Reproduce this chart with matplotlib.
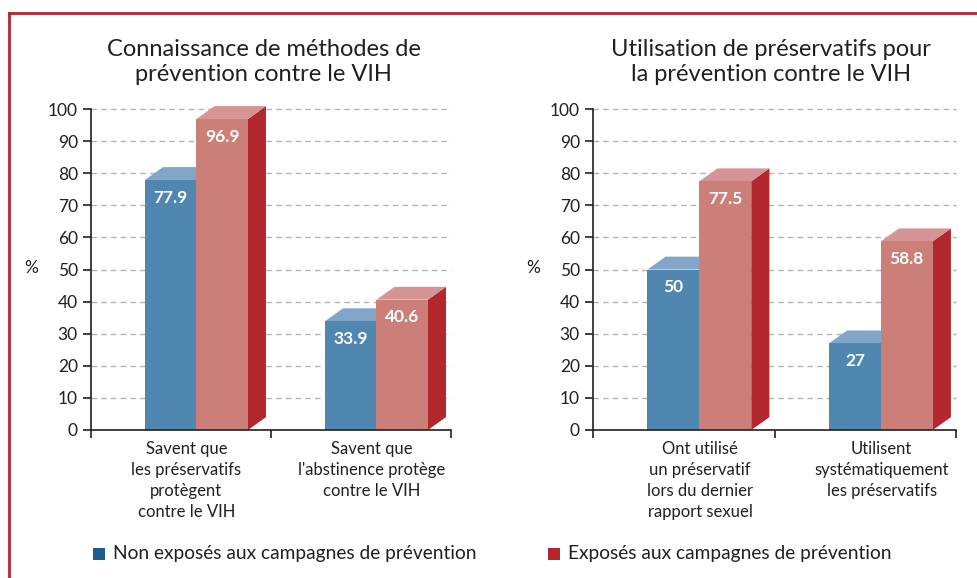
import matplotlib
matplotlib.use("Agg")
import matplotlib.pyplot as plt
from matplotlib.patches import Polygon, Rectangle
from matplotlib.lines import Line2D

plt.rcParams['font.family'] = ['Lato', 'DejaVu Sans']

# data
titles = ["Connaissance de méthodes de\nprévention contre le VIH",
          "Utilisation de préservatifs pour\nla prévention contre le VIH"]
categories_left = ["Savent que\nles préservatifs\nprotègent\ncontre le VIH",
                   "Savent que\nl'abstinence protège\ncontre le VIH"]
categories_right = ["Ont utilisé\nun préservatif\nlors du dernier\nrapport sexuel",
                    "Utilisent\nsystématiquement\nles préservatifs"]
non_exposed_left = [77.9, 33.9]
exposed_left = [96.9, 40.6]
non_exposed_right = [50, 27]
exposed_right = [77.5, 58.8]
labels_non_exposed_left = ["77.9", "33.9"]
labels_exposed_left = ["96.9", "40.6"]
labels_non_exposed_right = ["50", "27"]
labels_exposed_right = ["77.5", "58.8"]
legend_labels = ["Non exposés aux campagnes de prévention",
                 "Exposés aux campagnes de prévention"]
yticks = [0, 10, 20, 30, 40, 50, 60, 70, 80, 90, 100]

# colours
BLUE_FRONT = "#4f87b1"
BLUE_TOP = "#81a6c8"
BLUE_SIDE = "#3c6f96"
RED_FRONT = "#cc7f79"
RED_TOP = "#d69594"
RED_SIDE = "#b2282e"
BLUE_LEGEND = "#1d5d8e"
TEXT = "#231f20"

W = 0.286     # bar width
OFF = 0.30    # offset of first bar in category
DX = 0.10     # depth in x
DY = 4.0      # depth in y


def bar3d(ax, x0, h, front, top, side, label):
    x1 = x0 + W
    ax.add_patch(Polygon([(x1, 0), (x1 + DX, DY), (x1 + DX, h + DY), (x1, h)],
                         closed=True, facecolor=side, edgecolor='none',
                         zorder=3, clip_on=False))
    ax.add_patch(Polygon([(x0, h), (x0 + DX, h + DY), (x1 + DX, h + DY), (x1, h)],
                         closed=True, facecolor=top, edgecolor='none',
                         zorder=3, clip_on=False))
    ax.add_patch(Rectangle((x0, 0), W, h, facecolor=front, edgecolor='none',
                           zorder=4, clip_on=False))
    ax.text(x0 + W / 2, h - 5.5, label, ha='center', va='center',
            color='white', fontsize=12.5, fontweight='bold', zorder=6)


def draw_panel(ax, title, cats, blue, red, blue_lbl, red_lbl, cat_pos, title_x):
    ax.set_xlim(0, 2)
    ax.set_ylim(0, 100)
    for i in range(2):
        bar3d(ax, i + OFF, blue[i], BLUE_FRONT, BLUE_TOP, BLUE_SIDE, blue_lbl[i])
        bar3d(ax, i + OFF + W, red[i], RED_FRONT, RED_TOP, RED_SIDE, red_lbl[i])
    for y in yticks[1:]:
        ax.axhline(y, color="#b3b3b3", linestyle=(0, (4, 3)), linewidth=1,
                   zorder=1, clip_on=False)
    ax.set_yticks(yticks)
    ax.set_yticklabels([str(t) for t in yticks], fontsize=12.5, color=TEXT)
    ax.set_xticks([0, 1, 2])
    ax.set_xticklabels([])
    ax.tick_params(axis='both', direction='out', length=6, width=1.2,
                   color="#231f20")
    for s in ['top', 'right']:
        ax.spines[s].set_visible(False)
    for s in ['left', 'bottom']:
        ax.spines[s].set_color("#231f20")
        ax.spines[s].set_linewidth(1.2)
        ax.spines[s].set_zorder(7)
    for i, c in enumerate(cats):
        ax.text(i + cat_pos[i], -3.5, c, ha='center', va='top', fontsize=12,
                color=TEXT, linespacing=1.38)
    ax.text(-0.33, 50.5, "%", ha='center', va='center', fontsize=12.5,
            color=TEXT)
    ax.set_title(title, fontsize=17, color=TEXT, pad=20, linespacing=1.25,
                 x=title_x)


fig = plt.figure(figsize=(9.78, 5.78), dpi=100)
ax1 = fig.add_axes([91 / 978, 148 / 578, 360 / 978, 321 / 578])
ax2 = fig.add_axes([593 / 978, 148 / 578, 363 / 978, 321 / 578])

draw_panel(ax1, titles[0], categories_left, non_exposed_left, exposed_left,
           labels_non_exposed_left, labels_exposed_left, [0.53, 0.56], 0.48)
draw_panel(ax2, titles[1], categories_right, non_exposed_right, exposed_right,
           labels_non_exposed_right, labels_exposed_right, [0.59, 0.59], 0.49)

# legend
fig.patches.append(Rectangle((93 / 978, 1 - 560 / 578), 12 / 978, 12 / 578,
                             facecolor=BLUE_LEGEND, edgecolor='none',
                             transform=fig.transFigure))
fig.text(113 / 978, 1 - 554 / 578, legend_labels[0], fontsize=13.8,
         color=TEXT, va='center', ha='left')
fig.patches.append(Rectangle((548 / 978, 1 - 560 / 578), 12 / 978, 12 / 578,
                             facecolor=RED_SIDE, edgecolor='none',
                             transform=fig.transFigure))
fig.text(568 / 978, 1 - 554 / 578, legend_labels[1], fontsize=13.8,
         color=TEXT, va='center', ha='left')

# frame
fig.add_artist(Line2D([9 / 978, 1], [1 - 13 / 578, 1 - 13 / 578],
                      color="#b5262c", linewidth=2, transform=fig.transFigure))
fig.add_artist(Line2D([9 / 978, 9 / 978], [0, 1 - 13 / 578],
                      color="#b5262c", linewidth=2, transform=fig.transFigure))

fig.savefig("out.png", dpi=100)
